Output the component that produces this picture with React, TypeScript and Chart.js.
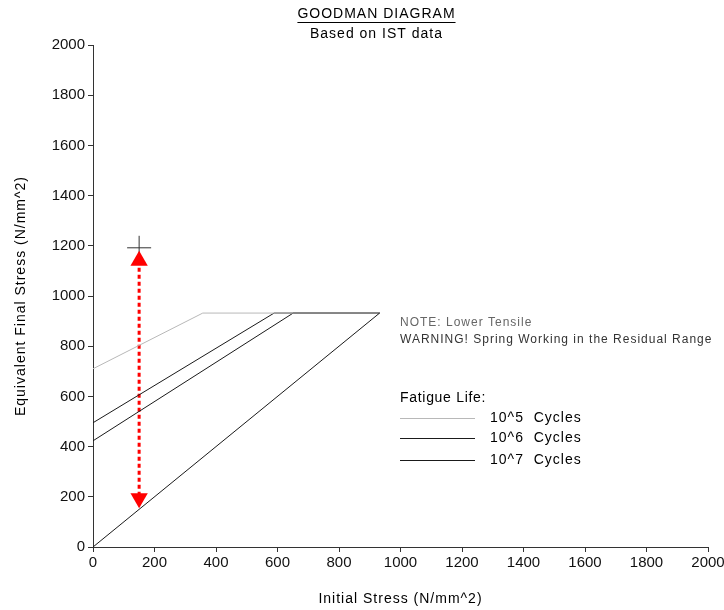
import React, { useEffect, useRef } from "react";
import { Chart, registerables } from "chart.js";

Chart.register(...registerables);

const TITLE = "GOODMAN DIAGRAM";
const SUBTITLE = "Based on IST data";
const X_TITLE = "Initial Stress (N/mm^2)";
const Y_TITLE = "Equivalent Final Stress (N/mm^2)";
const NOTES = ["NOTE: Lower Tensile", "WARNING! Spring Working in the Residual Range"];
const LEGEND_TITLE = "Fatigue Life:";

// Fatigue life curves: [initial stress, equivalent final stress]
const life1e5X = [0, 357, 932];
const life1e5Y = [710, 932, 932];
const life1e6X = [0, 589, 932];
const life1e6Y = [495, 932, 932];
const life1e7X = [0, 651, 932];
const life1e7Y = [423, 932, 932];
const yieldX = [0, 932];
const yieldY = [0, 932];

// Working range of the spring
const workX = [150, 150];
const workY = [1140, 194];
const pointX = 150;
const pointY = 1192;

const SERIES_LABELS = ["10^5  Cycles", "10^6  Cycles", "10^7  Cycles"];
const SERIES_COLORS = ["#b8b8b8", "#1a1a1a", "#1a1a1a"];

const FONT = "'Liberation Sans', Arial, sans-serif";

const pts = (xs: number[], ys: number[]) => xs.map((x, i) => ({ x, y: ys[i] }));

const overlay = {
  id: "overlay",
  afterDraw(chart: any) {
    const ctx = chart.ctx;
    const area = chart.chartArea;
    ctx.save();
    ctx.letterSpacing = "1px";
    // Titles
    const cx = chart.width * 0.52;
    ctx.fillStyle = "#000";
    ctx.textAlign = "center";
    ctx.textBaseline = "middle";
    ctx.font = `14px ${FONT}`;
    ctx.fillText(TITLE, cx, 14);
    const tw = ctx.measureText(TITLE).width;
    ctx.strokeStyle = "#000";
    ctx.lineWidth = 1;
    ctx.beginPath();
    ctx.moveTo(cx - tw / 2, 22.5);
    ctx.lineTo(cx + tw / 2, 22.5);
    ctx.stroke();
    ctx.fillText(SUBTITLE, cx, 34);

    // Axis titles
    ctx.fillText(X_TITLE, (area.left + area.right) / 2, 599);
    ctx.save();
    ctx.translate(21, (area.top + area.bottom) / 2);
    ctx.rotate(-Math.PI / 2);
    ctx.fillText(Y_TITLE, 0, 0);
    ctx.restore();

    // Notes
    const lx = area.left + 307;
    ctx.textAlign = "left";
    ctx.font = `12px ${FONT}`;
    ctx.fillStyle = "#666";
    ctx.fillText(NOTES[0], lx, 323);
    ctx.fillStyle = "#333";
    ctx.fillText(NOTES[1], lx, 340);

    // Legend
    ctx.font = `14px ${FONT}`;
    ctx.fillStyle = "#000";
    ctx.letterSpacing = "0.7px";
    ctx.fillText(LEGEND_TITLE, lx, 398);
    ctx.letterSpacing = "1px";
    const rows = [418, 438, 460];
    SERIES_LABELS.forEach((lab, i) => {
      ctx.strokeStyle = SERIES_COLORS[i];
      ctx.lineWidth = 1;
      ctx.beginPath();
      ctx.moveTo(lx, rows[i] + 0.5);
      ctx.lineTo(lx + 75, rows[i] + 0.5);
      ctx.stroke();
      ctx.fillStyle = "#000";
      ctx.fillText(lab, lx + 90, rows[i]);
    });
    ctx.restore();
  },
};

export default function App() {
  const ref = useRef<HTMLCanvasElement | null>(null);
  useEffect(() => {
    if (!ref.current) return;
    const line = (data: any[], color: string, extra: any = {}) => ({
      data,
      showLine: true,
      borderColor: color,
      backgroundColor: color,
      borderWidth: 1,
      pointRadius: 0,
      ...extra,
    });
    const chart = new Chart(ref.current, {
      type: "scatter",
      data: {
        datasets: [
          line(pts(yieldX, yieldY), "#1a1a1a"),
          line(pts(life1e5X, life1e5Y), SERIES_COLORS[0], { label: SERIES_LABELS[0] }),
          line(pts(life1e6X, life1e6Y), SERIES_COLORS[1], { label: SERIES_LABELS[1] }),
          line(pts(life1e7X, life1e7Y), SERIES_COLORS[2], { label: SERIES_LABELS[2] }),
          {
            data: pts(workX, workY),
            showLine: false,
            pointStyle: "triangle",
            pointRadius: 10,
            rotation: [0, 180],
            backgroundColor: "#ff0000",
            borderColor: "#ff0000",
            borderWidth: 0,
          },
          line(pts(workX, workY), "#ff0000", { borderWidth: 3, borderDash: [4, 3] }),
          {
            data: [{ x: pointX, y: pointY }],
            showLine: false,
            pointStyle: "cross",
            pointRadius: 12,
            borderColor: "#333",
            borderWidth: 1,
          },
        ],
      },
      options: {
        animation: false,
        responsive: true,
        maintainAspectRatio: false,
        layout: { padding: { top: 45, right: 16, left: 0, bottom: 0 } },
        plugins: { legend: { display: false }, tooltip: { enabled: false }, title: { display: false } },
        scales: {
          x: {
            type: "linear",
            min: 0,
            max: 2000,
            afterFit: (s: any) => { s.height = 63; s.paddingRight = 0; s.paddingLeft = 0; },
            ticks: { stepSize: 200, color: "#111", font: { family: FONT, size: 15 }, padding: 2, callback: (v: any) => String(v) },
            grid: { drawOnChartArea: false, drawTicks: true, tickLength: 5, color: "#333" },
            border: { color: "#333", width: 1 },
            title: { display: false },
          },
          y: {
            type: "linear",
            min: 0,
            max: 2000,
            afterFit: (s: any) => { s.width = 93; s.paddingTop = 0; s.paddingBottom = 0; },
            ticks: { stepSize: 200, color: "#111", font: { family: FONT, size: 15 }, padding: 3, callback: (v: any) => String(v) },
            grid: { drawOnChartArea: false, drawTicks: true, tickLength: 5, color: "#333" },
            border: { color: "#333", width: 1 },
            title: { display: false },
          },
        },
      },
      plugins: [overlay],
    });
    return () => chart.destroy();
  }, []);
  return (
    <div style={{ position: "absolute", left: 0, top: 0, width: 724, height: 610, background: "#fff" }}>
      <canvas ref={ref} />
    </div>
  );
}
